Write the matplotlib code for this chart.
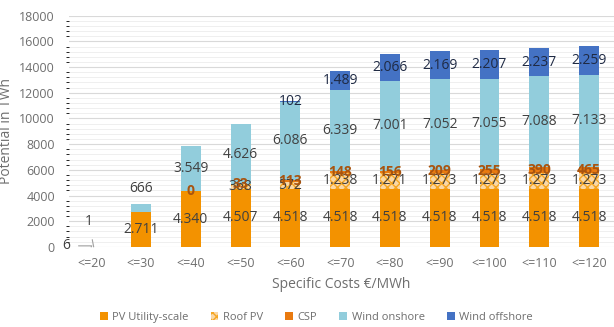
import matplotlib
matplotlib.use("Agg")
import matplotlib.pyplot as plt
from matplotlib.ticker import MultipleLocator
import numpy as np

# Potential by specific cost class (TWh), stacked by technology
categories = ["<=20", "<=30", "<=40", "<=50", "<=60", "<=70",
              "<=80", "<=90", "<=100", "<=110", "<=120"]
pv_utility = [6, 2711, 4340, 4507, 4518, 4518, 4518, 4518, 4518, 4518, 4518]
roof_pv = [np.nan, np.nan, np.nan, 368, 572, 1238, 1271, 1273, 1273, 1273, 1273]
csp = [np.nan, np.nan, 0, 33, 113, 148, 156, 209, 255, 390, 465]
wind_onshore = [1, 666, 3549, 4626, 6086, 6339, 7001, 7052, 7055, 7088, 7133]
wind_offshore = [np.nan, np.nan, np.nan, np.nan, 102, 1489, 2066, 2169, 2207, 2237, 2259]

TXT = "#404040"
AXC = "#6E6E6E"


def fmt(v):
    # German thousands separator
    return f"{int(v):,}".replace(",", ".")


plt.rcParams["font.family"] = ["Open Sans", "DejaVu Sans"]

fig = plt.figure(figsize=(6.14, 3.27), dpi=100)
ax = fig.add_axes([0.112, 0.245, 0.888, 0.707])

x = np.arange(len(categories))
w = 0.4

series = [
    ("PV Utility-scale", pv_utility, dict(color="#F39200"), TXT, "normal"),
    ("Roof PV", roof_pv, dict(facecolor="#FAD8A6", edgecolor="#F5A623",
                               hatch="xxxx", linewidth=0), TXT, "normal"),
    ("CSP", csp, dict(color="#E97A10"), "#A8540F", "bold"),
    ("Wind onshore", wind_onshore, dict(color="#92CDDC"), TXT, "normal"),
    ("Wind offshore", wind_offshore, dict(color="#4472C4"), "#1F2A44", "normal"),
]

bottom = np.zeros(len(categories))
for name, vals, style, tcol, tw in series:
    v = np.nan_to_num(np.array(vals, dtype=float))
    ax.bar(x, v, w, bottom=bottom, label=name, zorder=3, **style)
    for i, val in enumerate(vals):
        if np.isnan(val) or i == 0:
            continue
        ypos = bottom[i] + v[i] / 2
        if v[i] < 800 and name == "Wind onshore":
            # short segment: put the label above the bar
            ypos = bottom[i] + v[i] + 1200
        ax.text(x[i], ypos, fmt(val), ha="center", va="center",
                fontsize=10, color=tcol, fontweight=tw, zorder=4)
    bottom += v

# tiny values in the cheapest class get leader lines
ax.annotate(fmt(pv_utility[0]), xy=(x[0], 0),
            xytext=(x[0] - 0.5, 80), fontsize=10, color=TXT,
            ha="center", va="center", annotation_clip=False,
            arrowprops=dict(arrowstyle="-", color="#A0A0A0", lw=0.8,
                            shrinkA=4, shrinkB=0,
                            connectionstyle="angle,angleA=0,angleB=60,rad=0"))
ax.annotate(fmt(wind_onshore[0]), xy=(x[0] + 0.05, 0),
            xytext=(x[0] - 0.05, 2000), fontsize=10, color=TXT,
            ha="center", va="center",
            arrowprops=dict(arrowstyle="-", color="#A0A0A0", lw=0.8,
                            shrinkA=6, shrinkB=0))

ax.set_xlim(-0.45, 10.5)
ax.set_ylim(0, 18000)
ax.set_xticks(x)
ax.set_xticklabels(categories)
ax.yaxis.set_major_locator(MultipleLocator(2000))
ax.yaxis.set_minor_locator(MultipleLocator(400))
ax.grid(axis="y", which="major", color="#D9D9D9", lw=0.8, zorder=0)
ax.grid(axis="y", which="minor", color="#EDEDED", lw=0.6, zorder=0)
for s in ax.spines.values():
    s.set_visible(False)
ax.tick_params(axis="both", length=0, labelsize=9, colors=AXC)
ax.tick_params(axis="y", pad=10)
ax.tick_params(axis="x", pad=7)

ax.set_xlabel("Specific Costs €/MWh", fontsize=10, color=AXC, labelpad=5)
ax.set_ylabel("Potential in TWh", fontsize=10, color=AXC, labelpad=4)

fig.legend(*ax.get_legend_handles_labels(), loc="center",
           bbox_to_anchor=(0.515, 0.03), ncol=5,
           frameon=False, fontsize=8, labelcolor=AXC,
           handlelength=0.7, handleheight=0.7, columnspacing=2.0,
           handletextpad=0.4)

fig.savefig("out.png", dpi=100)
